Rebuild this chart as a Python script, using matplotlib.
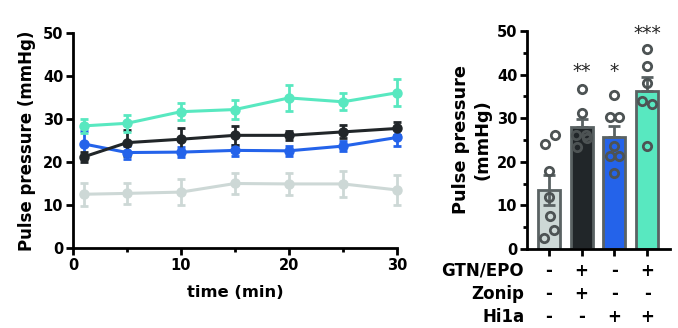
import matplotlib
matplotlib.use("Agg")
import matplotlib.pyplot as plt
from matplotlib.ticker import MultipleLocator
import numpy as np

plt.rcParams['font.family'] = ['DejaVu Sans']
plt.rcParams['font.weight'] = 'bold'

# ---------------- data: time course ----------------
time_min = [1, 5, 10, 15, 20, 25, 30]
ctrl_mean = [12.5, 12.7, 13.0, 15.0, 14.9, 14.9, 13.5]
ctrl_sem = [2.7, 2.5, 3.0, 2.5, 2.5, 3.0, 3.5]
hi1a_mean = [24.2, 22.2, 22.3, 22.7, 22.6, 23.7, 25.7]
hi1a_sem = [3.0, 1.5, 1.2, 1.2, 1.2, 1.2, 2.0]
zonip_mean = [21.2, 24.5, 25.3, 26.2, 26.2, 27.0, 27.8]
zonip_sem = [1.2, 3.0, 2.7, 2.2, 1.0, 1.5, 1.5]
both_mean = [28.4, 29.0, 31.7, 32.2, 34.9, 34.0, 36.1]
both_sem = [1.7, 2.0, 2.0, 2.2, 3.0, 2.0, 3.1]

# ---------------- data: bar chart ----------------
bar_means = [13.6, 28.0, 25.6, 36.2]
bar_sems = [3.4, 1.7, 2.5, 3.2]
bar_points = [
    [24.0, 26.1, 17.8, 12.0, 7.5, 4.3, 2.5],
    [36.6, 31.1, 26.2, 26.2, 25.4, 23.3],
    [35.3, 30.2, 30.2, 23.7, 21.4, 21.4, 17.5],
    [45.8, 42.0, 38.0, 33.9, 33.3, 23.7],
]
point_jitter = [
    [-0.12, 0.18, 0.0, 0.0, 0.03, 0.15, -0.15],
    [0.0, 0.0, -0.17, 0.13, 0.16, -0.15],
    [0.0, -0.14, 0.15, 0.0, -0.14, 0.15, 0.0],
    [0.0, 0.0, 0.0, -0.16, 0.14, 0.0],
]
significance = ['', '**', '*', '***']
sig_y = [0, 40.6, 40.6, 49.4]
row_labels = ['GTN/EPO', 'Zonip', 'Hi1a']
row_signs = [['-', '+', '-', '+'],
             ['-', '+', '-', '-'],
             ['-', '-', '+', '+']]

c_ctrl = '#CDD8D6'
c_hi1a = '#2463EA'
c_zonip = '#212629'
c_both = '#58E8C0'
edge_gray = '#5A6263'
pt_gray = '#4D5354'

fig = plt.figure(figsize=(6.78, 3.28), dpi=100)

# ---------------- left: time course ----------------
ax1 = fig.add_axes([0.1077, 0.2439, 0.4778, 0.6555])
series = [(ctrl_mean, ctrl_sem, c_ctrl), (hi1a_mean, hi1a_sem, c_hi1a),
          (zonip_mean, zonip_sem, c_zonip), (both_mean, both_sem, c_both)]
for m, s, c in series:
    ax1.errorbar(time_min, m, yerr=s, color=c, lw=2.2, marker='o', ms=6.5,
                 mec=c, mfc=c, capsize=3, capthick=2, elinewidth=2,
                 clip_on=False, zorder=3)
ax1.set_xlim(0, 30)
ax1.set_ylim(0, 50)
ax1.xaxis.set_major_locator(MultipleLocator(10))
ax1.xaxis.set_minor_locator(MultipleLocator(5))
ax1.yaxis.set_major_locator(MultipleLocator(10))
for sp in ['top', 'right']:
    ax1.spines[sp].set_visible(False)
for sp in ['left', 'bottom']:
    ax1.spines[sp].set_linewidth(2)
ax1.tick_params(which='major', length=5, width=2, labelsize=10.5, pad=2)
ax1.tick_params(which='minor', length=3, width=2)
for lab in ax1.get_xticklabels() + ax1.get_yticklabels():
    lab.set_fontweight('bold')
ax1.set_xlabel('time (min)', fontsize=11.8, fontweight='bold', labelpad=9)
ax1.set_ylabel('Pulse pressure (mmHg)', fontsize=12, fontweight='bold', labelpad=5)

# ---------------- right: bar chart ----------------
ax2 = fig.add_axes([0.7773, 0.2409, 0.2109, 0.6646])
xpos = np.arange(len(bar_means))
colors = [c_ctrl, c_zonip, c_hi1a, c_both]
ax2.bar(xpos, bar_means, width=0.68, color=colors, edgecolor=edge_gray,
        linewidth=2, zorder=2)
for i in range(len(bar_means)):
    lower = bar_sems[i] if i == 0 else 0
    ax2.errorbar(xpos[i], bar_means[i], yerr=[[lower], [bar_sems[i]]],
                 color=edge_gray, capsize=4, capthick=2, elinewidth=2,
                 fmt='none', zorder=3)
    ax2.plot(xpos[i] + np.array(point_jitter[i]), bar_points[i], 'o',
             ms=6, mfc='none', mec=pt_gray, mew=2, zorder=4, clip_on=False)
    if significance[i]:
        ax2.text(xpos[i], sig_y[i], significance[i], ha='center', va='center',
                 fontsize=13.5, fontweight='normal', color='#222222',
                 clip_on=False)
ax2.set_xlim(-0.67, 3.70)
ax2.set_ylim(0, 50)
ax2.set_xticks(xpos)
ax2.set_xticklabels([])
ax2.yaxis.set_major_locator(MultipleLocator(10))
ax2.yaxis.set_minor_locator(MultipleLocator(5))
for sp in ['top', 'right']:
    ax2.spines[sp].set_visible(False)
for sp in ['left', 'bottom']:
    ax2.spines[sp].set_linewidth(2)
ax2.tick_params(which='major', length=5, width=2, labelsize=10.5, pad=2)
ax2.tick_params(which='minor', length=3, width=2)
for lab in ax2.get_yticklabels():
    lab.set_fontweight('bold')
ax2.set_ylabel('Pulse pressure\n(mmHg)', fontsize=12.8, fontweight='bold',
               labelpad=4, linespacing=1.2)

# treatment table under the bars
row_y = [-0.10, -0.207, -0.31]
for r, lab in enumerate(row_labels):
    ax2.text(-0.02, row_y[r], lab, transform=ax2.transAxes, ha='right',
             va='center', fontsize=12, fontweight='bold')
    for i in range(len(xpos)):
        ax2.text(xpos[i], row_y[r], row_signs[r][i],
                 transform=ax2.get_xaxis_transform(), ha='center',
                 va='center', fontsize=12, fontweight='bold')

fig.savefig('out.png', dpi=100)
